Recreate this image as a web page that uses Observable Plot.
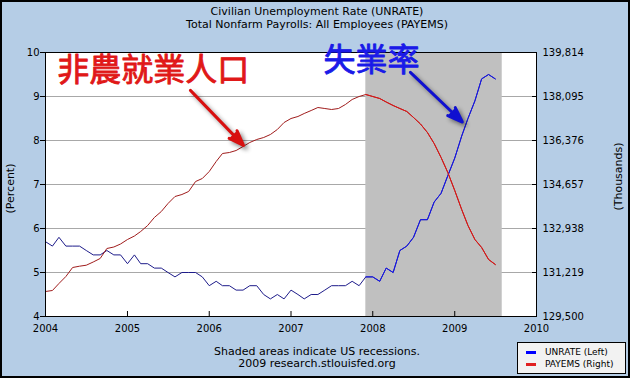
<!DOCTYPE html>
<html>
<head>
<meta charset="utf-8">
<script src="https://cdn.jsdelivr.net/npm/d3@7"></script>
<script src="https://cdn.jsdelivr.net/npm/@observablehq/plot@0.6"></script>
<style>
  body { margin: 0; }
  #wrap { position: relative; width: 630px; height: 378px; background: #b5cde6; overflow: hidden;
          font-family: "DejaVu Sans", sans-serif; color: #000; }
  #wrap svg { position: absolute; left: 0; top: 0; }
  .t { position: absolute; left: 2px; width: 630px; text-align: center; font-size: 11px; line-height: 13px; white-space: nowrap; }
  .rot { position: absolute; width: 120px; text-align: center; font-size: 11px; line-height: 13px; transform: rotate(-90deg); white-space: nowrap; }
  #border { position: absolute; left: 0; top: 0; width: 630px; height: 378px; box-sizing: border-box; border: 2px solid #000; pointer-events: none; }
  #legend { position: absolute; left: 517px; top: 342px; width: 109px; height: 32px; box-sizing: border-box;
            border: 1px solid #000; background: #f2f2f2; font-size: 9px; }
  .li { position: absolute; left: 0; height: 12px; line-height: 12px; }
  .sw { position: absolute; left: 8px; top: 5px; width: 10px; height: 3px; }
  .lt { position: absolute; left: 27px; top: 0; white-space: nowrap; }
</style>
</head>
<body>
<div id="wrap">
  <div class="t" style="top:5px">Civilian Unemployment Rate (UNRATE)</div>
  <div class="t" style="top:18px">Total Nonfarm Payrolls: All Employees (PAYEMS)</div>
  <div class="rot" style="left:-50px; top:182px">(Percent)</div>
  <div class="rot" style="left:558px; top:170px">(Thousands)</div>
  <div class="t" style="top:345px">Shaded areas indicate US recessions.</div>
  <div class="t" style="top:357px">2009 research.stlouisfed.org</div>
  <div id="legend">
    <div class="li" style="top:3px"><div class="sw" style="background:#0000ff"></div><div class="lt">UNRATE (Left)</div></div>
    <div class="li" style="top:15px"><div class="sw" style="background:#e02020"></div><div class="lt">PAYEMS (Right)</div></div>
  </div>
  <div id="border"></div>
</div>
<script>
// Civilian unemployment rate, %, monthly Jan 2004 – Jul 2009
const unrate = [
  5.7, 5.6, 5.8, 5.6, 5.6, 5.6, 5.5, 5.4, 5.4, 5.5, 5.4, 5.4,
  5.2, 5.4, 5.2, 5.2, 5.1, 5.1, 5.0, 4.9, 5.0, 5.0, 5.0, 4.9,
  4.7, 4.8, 4.7, 4.7, 4.6, 4.6, 4.7, 4.7, 4.5, 4.4, 4.5, 4.4,
  4.6, 4.5, 4.4, 4.5, 4.5, 4.6, 4.7, 4.7, 4.7, 4.8, 4.7, 4.9,
  4.9, 4.8, 5.1, 5.0, 5.5, 5.6, 5.8, 6.2, 6.2, 6.6, 6.8, 7.2,
  7.6, 8.1, 8.5, 8.9, 9.4, 9.5, 9.4
];
// Total nonfarm payrolls, thousands, monthly Jan 2004 – Jul 2009
const payems = [
  130477, 130516, 130789, 131063, 131414, 131465, 131504, 131629, 131766, 132157, 132215, 132332,
  132508, 132645, 132821, 133055, 133368, 133602, 133915, 134188, 134266, 134384, 134774, 134891,
  135165, 135556, 135868, 135907, 135985, 136142, 136298, 136415, 136493, 136610, 136806, 137079,
  137235, 137314, 137431, 137548, 137665, 137626, 137587, 137626, 137782, 137978, 138095, 138173,
  138095, 138017, 137880, 137743, 137626, 137509, 137275, 137021, 136689, 136259, 135712, 135126,
  134423, 133680, 133055, 132508, 132196, 131727, 131532
];
const firstMonth = "2004-01-01";
const leftTicks = [4, 5, 6, 7, 8, 9, 10];
const rightTicks = [129500, 131219, 132938, 134657, 136376, 138095, 139814];
const yearTicks = ["2004", "2005", "2006", "2007", "2008", "2009", "2010"];
const recession = [{start: "2007-12-01", end: "2009-08-01"}];
const notes = [
  {text: "非農就業人口", date: "2004-02-22", value: 9.58, color: "#e01818"},
  {text: "失業率", date: "2007-05-26", value: 9.82, color: "#1a1ae8"}
];
const arrows = [
  {d1: "2005-10-09", v1: 9.14, d2: "2006-06-03", v2: 7.89, color: "#d81010"},
  {d1: "2008-06-17", v1: 9.55, d2: "2009-02-04", v2: 8.42, color: "#1010d0"}
];

const P = d => new Date(d + "T00:00:00Z");
const start = P(firstMonth);
const data = unrate.map((u, i) => ({date: d3.utcMonth.offset(start, i), unrate: u, payems: payems[i]}));
const rMin = rightTicks[0], rStep = (rightTicks[rightTicks.length - 1] - rMin) / (leftTicks.length - 1);
const toLeft = v => leftTicks[0] + (v - rMin) / rStep;
const recStart = P(recession[0].start);
const inRec = data.filter(d => d.date >= recStart);
const years = yearTicks.map(y => P(y + "-01-01"));

const chart = Plot.plot({
  width: 630, height: 378,
  marginLeft: 45, marginRight: 94, marginTop: 52, marginBottom: 62,
  style: {background: "transparent", fontFamily: "DejaVu Sans, sans-serif", fontSize: "10px", overflow: "visible"},
  x: {type: "utc", domain: [years[0], years[years.length - 1]], axis: null},
  y: {domain: [4, 10], axis: null},
  marks: [
    Plot.frame({fill: "#ffffff", stroke: null}),
    Plot.gridY(leftTicks, {stroke: "#a8a8a8", strokeOpacity: 1}),
    Plot.rect(recession, {x1: d => P(d.start), x2: d => P(d.end), fill: "#c0c0c0"}),
    Plot.line(data, {x: "date", y: "unrate", stroke: "#1e1c8a", strokeWidth: 1}),
    Plot.line(data, {x: "date", y: d => toLeft(d.payems), stroke: "#a01c1c", strokeWidth: 1}),
    Plot.line(inRec, {x: "date", y: "unrate", stroke: "#1414f0", strokeWidth: 1}),
    Plot.line(inRec, {x: "date", y: d => toLeft(d.payems), stroke: "#e01414", strokeWidth: 1}),
    Plot.frame({stroke: "#000"}),
    Plot.tickX(years, {x: d => d, stroke: "#000", insetTop: 259}),
    Plot.tickY(leftTicks, {y: d => d, stroke: "#000", insetLeft: 487}),
    Plot.axisY(leftTicks, {anchor: "left", tickSize: 5, tickPadding: 1, label: null, fontSize: 10}),
    Plot.axisY(rightTicks.map(toLeft), {anchor: "right", tickSize: 0, tickPadding: 6, label: null, fontSize: 10,
      tickFormat: d => d3.format(",")(Math.round(rMin + (d - 4) * rStep))}),
    Plot.axisX(years, {anchor: "bottom", tickSize: 0, tickPadding: 8, label: null, fontSize: 10, tickFormat: d3.utcFormat("%Y")}),
    Plot.arrow(arrows, {x1: d => P(d.d1), y1: "v1", x2: d => P(d.d2), y2: "v2",
      stroke: d => d.color, fill: d => d.color, strokeWidth: 3, headLength: 8, headAngle: 40}),
    Plot.text(notes, {x: d => P(d.date), y: "value", text: "text", fill: d => d.color,
      stroke: d => d.color, strokeWidth: 0.9, paintOrder: "fill",
      textAnchor: "start", lineAnchor: "middle", fontSize: 32, fontWeight: 400,
      fontFamily: "Noto Sans CJK TC, Noto Sans CJK SC, sans-serif"})
  ]
});
chart.querySelectorAll('g[aria-label="arrow"]').forEach(g => {
  g.style.filter = "drop-shadow(3px 3px 2px rgba(0,0,0,0.45))";
});
document.getElementById("wrap").insertBefore(chart, document.getElementById("wrap").firstChild);
</script>
</body>
</html>
